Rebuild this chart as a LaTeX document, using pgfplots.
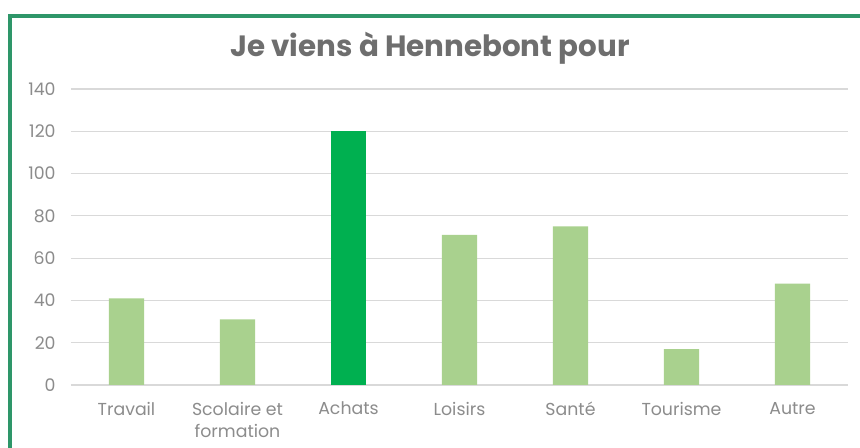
\documentclass[border=0pt]{standalone}
\usepackage{fontspec}
\setmainfont{Poppins}
\usepackage{pgfplots}
\pgfplotsset{compat=1.18}
\definecolor{frame}{RGB}{46,150,105}
\definecolor{light}{RGB}{169,209,142}
\definecolor{dark}{RGB}{0,176,80}
\definecolor{txt}{RGB}{140,140,140}
\definecolor{ttl}{RGB}{110,110,110}
\definecolor{grd}{RGB}{217,217,217}

\begin{document}
\begin{tikzpicture}
% 1px = 0.75pt, origin at top-left
\path[use as bounding box] (0pt,0pt) rectangle (645pt,-336pt);
\fill[white] (0pt,0pt) rectangle (645pt,-336pt);
\draw[frame,line width=3.5pt] (7.5pt,-345pt) -- (7.5pt,-12pt) -- (660pt,-12pt);
\node[ttl,font=\fontsize{22}{26}\selectfont\bfseries] at (322.5pt,-36pt) {Je viens à Hennebont pour};
\begin{axis}[
  at={(53.25pt,-288.75pt)}, anchor=south west,
  scale only axis, width=582.75pt, height=222pt,
  xmin=-0.5, xmax=6.5, ymin=0, ymax=140,
  ytick={0,20,...,140},
  xtick={0,...,6},
  xticklabels={Travail,{Scolaire et\\formation},Achats,Loisirs,Santé,Tourisme,Autre},
  xticklabel style={align=center,text=txt,font=\fontsize{13}{16.5}\selectfont,yshift=-5pt},
  yticklabel style={text=txt,font=\fontsize{13}{15}\selectfont,xshift=-8pt},
  /pgf/number format/assume math mode=true,
  axis line style={draw=none},
  tick style={draw=none},
  ymajorgrids, grid style={grd,line width=0.8pt},
  ybar, bar width=26.25pt,
  clip=false,
]
\addplot[fill=light,draw=none,bar shift=0pt] coordinates {(0,41) (1,31) (3,71) (4,75) (5,17) (6,48)};
\addplot[fill=dark,draw=none,bar shift=0pt] coordinates {(2,120)};
\end{axis}
\end{tikzpicture}
\end{document}
